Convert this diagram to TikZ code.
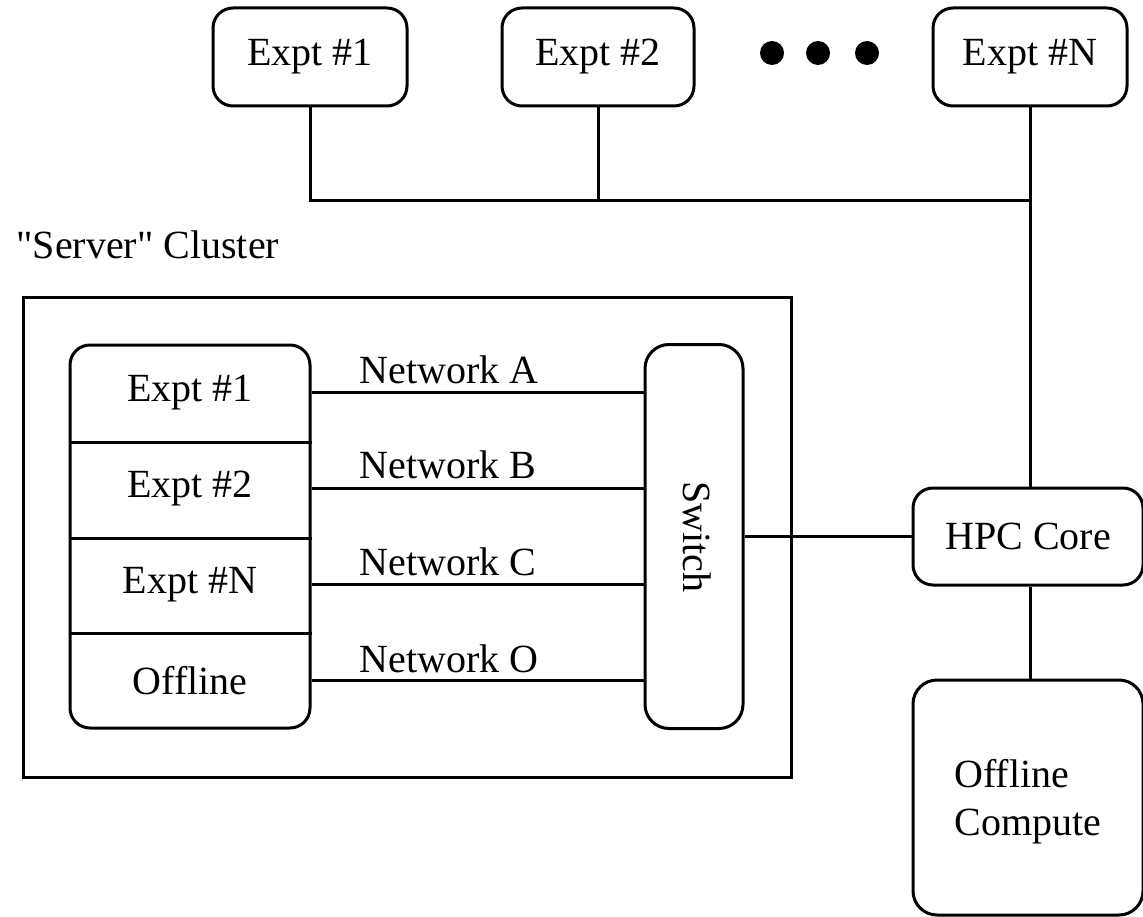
\documentclass[tikz,border=0pt]{standalone}
\usepackage{fontspec}
\setmainfont{Liberation Serif}[Ligatures=TeXOff]
\begin{document}
\begin{tikzpicture}[x=0.75pt,y=-0.75pt,line width=2.25pt,
  every node/.style={font=\fontsize{30}{36}\selectfont,inner sep=0pt},
  rbox/.style={draw,rounded corners=15pt},
  sbox/.style={draw,sharp corners},
  row/.style={minimum width=180pt,minimum height=71.8125pt},
  lbl/.style={anchor=base west},
  dot/.style={circle,fill,minimum size=18pt}]
\useasboundingbox (0,0) rectangle (1143,917);
% top experiments
\node[rbox,minimum width=145.5pt,minimum height=73.5pt] (e1) at (310,57) {Expt \#1};
\node[rbox,minimum width=144pt,minimum height=73.5pt] (e2) at (598,57) {Expt \#2};
\node[rbox,minimum width=145.5pt,minimum height=73.5pt] (eN) at (1030,57) {Expt \#N};
\node[dot] (d1) at (772,53) {};
\node[dot] (d2) at (818,53) {};
\node[dot] (d3) at (867,53) {};
\coordinate (bus) at (1030,200);
% server cluster
\node[lbl] (clab) at (15,258) {"Server" Cluster};
\node[sbox,minimum width=576pt,minimum height=360pt] (cluster) at (407,537) {};
\node[rbox,minimum width=180pt,minimum height=287.25pt] (stack) at (190,536.5) {};
\node[row] (r1) at (190,392.875) {Expt \#1};
\node[row] (r2) at (190,488.625) {Expt \#2};
\node[row] (r3) at (190,584.375) {Expt \#N};
\node[row] (r4) at (190,680.125) {Offline};
\draw (r1.south west) -- (r1.south east);
\draw (r2.south west) -- (r2.south east);
\draw (r3.south west) -- (r3.south east);
\node[draw,rounded corners=18pt,minimum width=73.5pt,minimum height=288pt] (sw) at (694,536.5) {};
\node[rotate=-90] (swt) at (697,537) {Switch};
\draw (r1.east) -- (sw.west |- r1.east);
\draw (r2.east) -- (sw.west |- r2.east);
\draw (r3.east) -- (sw.west |- r3.east);
\draw (r4.east) -- (sw.west |- r4.east);
\node[lbl] (na) at (358,383) {Network A};
\node[lbl] (nb) at (358,478) {Network B};
\node[lbl] (nc) at (358,575) {Network C};
\node[lbl] (no) at (358,672) {Network O};
% HPC side
\node[rbox,minimum width=172.5pt,minimum height=72.75pt] (hpc) at (1028,536.5) {HPC Core};
\node[draw,rounded corners=18pt,minimum width=172.5pt,minimum height=176.25pt] (oc) at (1028,797.5) {};
\node[anchor=base west,align=left] (oct) at (953,835) {Offline\\Compute};
% connectors
\draw (e1.south) |- (bus);
\draw (e2.south) -- (e2.south |- bus);
\draw (eN.south) -- (eN.south |- hpc.north);
\draw (eN.south |- hpc.south) -- (eN.south |- oc.north);
\draw (sw.east) -- (hpc.west);
\end{tikzpicture}
\end{document}
